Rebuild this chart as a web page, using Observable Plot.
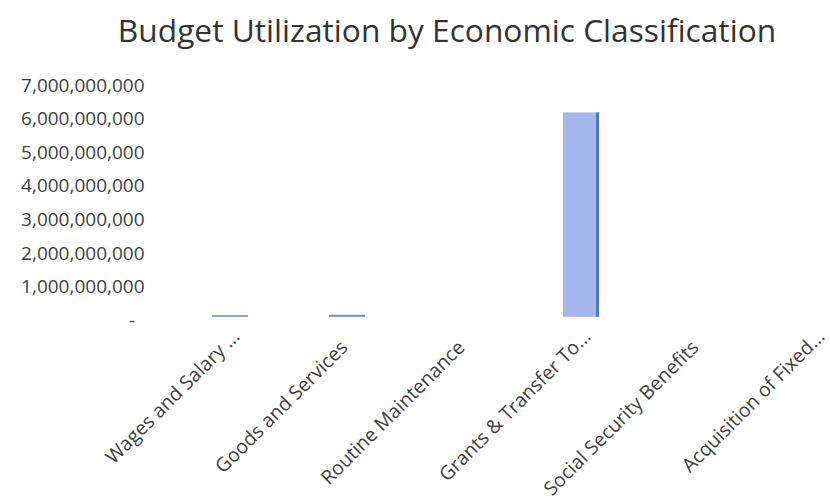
<!DOCTYPE html>
<html>
<head>
<meta charset="utf-8">
<script src="https://cdn.jsdelivr.net/npm/d3@7"></script>
<script src="https://cdn.jsdelivr.net/npm/@observablehq/plot@0.6"></script>
<style>
  html, body { margin: 0; padding: 0; background: #fff; }
  #wrap { width: 830px; height: 500px; overflow: hidden; position: relative; }
  #title { height: 60px; line-height: 60px; font-family: "Open Sans", sans-serif; font-size: 31.7px; color: #333; text-align: center; padding-left: 64px; box-sizing: border-box; width: 830px; white-space: nowrap; }
</style>
</head>
<body>
<div id="wrap">
  <div id="title">Budget Utilization by Economic Classification</div>
  <div id="chart"></div>
</div>
<script>
const categories = ["Wages and Salary ...", "Goods and Services", "Routine Maintenance", "Grants & Transfer To...", "Social Security Benefits", "Acquisition of Fixed..."];
const values = [50000000, 60000000, 0, 6080000000, 0, 0];
const yTicks = [0, 1000000000, 2000000000, 3000000000, 4000000000, 5000000000, 6000000000, 7000000000];

const data = categories.map((c, i) => ({category: c, value: values[i]}));
const fmt = d3.format(",");
const truncated = categories.filter(c => c.endsWith("..."));
const full = categories.filter(c => !c.endsWith("..."));

const labelStyle = {
  x: d => d,
  frameAnchor: "bottom",
  rotate: -45,
  textAnchor: "end",
  lineAnchor: "middle",
  fontSize: 19.5,
  fill: "#404040"
};

const chart = Plot.plot({
  width: 830,
  height: 440,
  marginLeft: 150,
  marginTop: 21.5,
  marginBottom: 183.2,
  marginRight: 0,
  style: {fontFamily: "'Open Sans', sans-serif", background: "#fff", overflow: "hidden"},
  x: {domain: categories, range: [171.4, 874.6], paddingInner: 0.69, paddingOuter: 0.345, axis: null},
  y: {domain: [0, 7000000000], ticks: yTicks, axis: null},
  marks: [
    Plot.axisY({
      ticks: yTicks,
      tickSize: 0,
      tickPadding: 6,
      dy: 3.5,
      fontSize: 19,
      fill: "#404040",
      label: null,
      tickFormat: d => d === 0 ? "-\u2002" : fmt(d)
    }),
    Plot.barY(data, {
      x: "category",
      y: "value",
      fill: d => d.value < 1000000000 ? "#7390dd" : "#a4b6ec"
    }),
    Plot.barY(data.filter(d => d.value >= 1000000000), {
      x: "category",
      y: "value",
      fill: "#5275cc",
      insetLeft: 33
    }),
    Plot.text(truncated, {...labelStyle, dx: 6, dy: 16}),
    Plot.text(full, {...labelStyle, dx: -3, dy: 27})
  ]
});
document.getElementById("chart").appendChild(chart);
</script>
</body>
</html>
